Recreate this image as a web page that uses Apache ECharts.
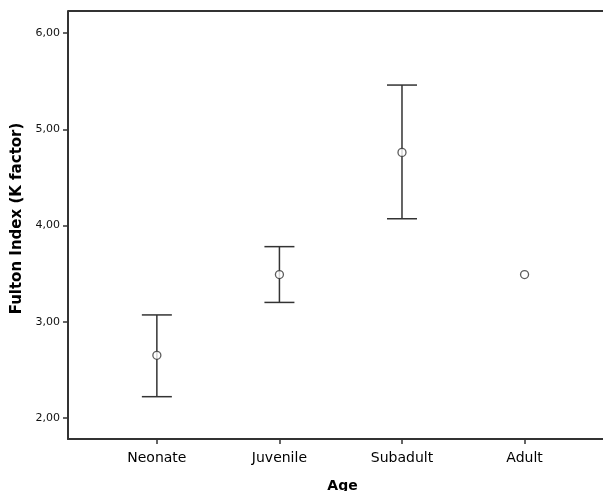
<!DOCTYPE html>
<html>
<head>
<meta charset="utf-8">
<script src="https://cdn.jsdelivr.net/npm/echarts@6/dist/echarts.min.js"></script>
<style>html,body{margin:0;padding:0;background:#fff}#c{width:603px;height:491px}</style>
</head>
<body>
<div id="c"></div>
<script>
const categories = ['Neonate', 'Juvenile', 'Subadult', 'Adult'];
const means = [2.65, 3.49, 4.76, 3.49];
const lower = [2.22, 3.20, 4.07, null];
const upper = [3.07, 3.78, 5.46, null];
const yTicks = [2, 3, 4, 5, 6];

const catPos = categories.map((_, i) => i + 1);
const meanData = means.map((m, i) => [i + 1, m]);
const barData = [];
lower.forEach((lo, i) => { if (lo !== null) barData.push([i + 1, lo, upper[i]]); });

const chart = echarts.init(document.getElementById('c'), null, {renderer: 'canvas'});
const font = 'DejaVu Sans';
chart.setOption({
  animation: false,
  grid: {left: 68, top: 11, right: 0, bottom: 52, containLabel: false, outerBoundsMode: 'none'},
  xAxis: {
    type: 'value', min: 0.275, max: 4.64,
    name: 'Age', nameLocation: 'middle', nameGap: 40,
    nameTextStyle: {fontFamily: font, fontWeight: 'bold', fontSize: 14, color: '#000', padding: [0, 0, 0, 14]},
    axisLine: {show: true, onZero: false, lineStyle: {color: '#333', width: 2}},
    axisTick: {show: true, length: 5, lineStyle: {color: '#333', width: 1.5}, customValues: catPos},
    axisLabel: {customValues: catPos, margin: 12, fontFamily: font, fontSize: 14, color: '#000',
      formatter: v => categories[Math.round(v) - 1] || ''},
    splitLine: {show: false}
  },
  yAxis: [{
    type: 'value', min: 1.78, max: 6.23,
    name: 'Fulton Index (K factor)', nameLocation: 'middle', nameGap: 39, nameRotate: 90,
    nameTextStyle: {fontFamily: font, fontWeight: 'bold', fontSize: 15, color: '#000', padding: [0, 0, 0, 13]},
    axisLine: {show: true, lineStyle: {color: '#333', width: 2}},
    axisTick: {show: true, length: 5, lineStyle: {color: '#333', width: 1.5}, customValues: yTicks},
    axisLabel: {customValues: yTicks, margin: 8, fontFamily: font, fontSize: 11, color: '#111',
      formatter: v => v.toFixed(2).replace('.', ',')},
    splitLine: {show: false}
  }],
  graphic: [{
    type: 'line', shape: {x1: 68, y1: 11, x2: 603, y2: 11},
    style: {stroke: '#333', lineWidth: 2}
  }],
  series: [{
    type: 'custom',
    data: barData,
    renderItem: function (params, api) {
      const x = api.value(0);
      const lo = api.coord([x, api.value(1)]);
      const hi = api.coord([x, api.value(2)]);
      const hw = 15;
      const st = {stroke: '#333', lineWidth: 1.5};
      return {type: 'group', children: [
        {type: 'line', shape: {x1: lo[0], y1: lo[1], x2: hi[0], y2: hi[1]}, style: st},
        {type: 'line', shape: {x1: lo[0] - hw, y1: lo[1], x2: lo[0] + hw, y2: lo[1]}, style: st},
        {type: 'line', shape: {x1: hi[0] - hw, y1: hi[1], x2: hi[0] + hw, y2: hi[1]}, style: st}
      ]};
    },
    z: 2
  }, {
    type: 'scatter',
    data: meanData,
    symbol: 'circle', symbolSize: 8,
    itemStyle: {color: '#fff', borderColor: '#333', borderWidth: 1.3},
    z: 3
  }]
});
</script>
</body>
</html>
